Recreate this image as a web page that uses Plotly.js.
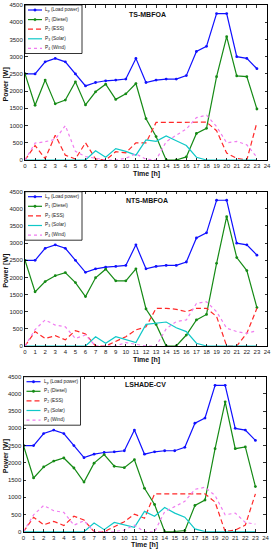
<!DOCTYPE html>
<html><head><meta charset="utf-8">
<script src="https://cdn.plot.ly/plotly-3.0.1.min.js"></script>
<style>html,body{margin:0;padding:0;background:#fff}#chart{width:272px;height:550px}</style>
</head><body><div id="chart"></div>
<script>
const hours = [0,1,2,3,4,5,6,7,8,9,10,11,12,13,14,15,16,17,18,19,20,21,22,23];
const xTicks = [0,1,2,3,4,5,6,7,8,9,10,11,12,13,14,15,16,17,18,19,20,21,22,23,24];
const yTicks = [0,500,1000,1500,2000,2500,3000,3500,4000,4500];
const seriesNames = ['L<sub>p</sub> (Load power)','P<sub>1</sub> (Diesel)','P<sub>2</sub> (ESS)','P<sub>3</sub> (Solar)','P<sub>4</sub> (Wind)'];
const panelTitles = ['TS-MBFOA','NTS-MBFOA','LSHADE-CV'];

const load = [2500,2500,2850,2950,2850,2500,2150,2250,2300,2320,2350,2950,2250,2320,2350,2350,2450,3150,3300,4250,4250,3000,2950,2650];

const diesel1 = [2500,1590,2320,1630,1740,2270,1600,1980,2200,1760,1920,2220,1200,680,0,0,90,770,920,2420,3580,2440,2420,1480];
const ess1    = [0,420,40,720,140,30,500,30,0,240,210,500,500,1090,1090,1090,1100,1100,1100,850,200,50,0,1090];
const solar1  = [0,0,0,0,0,0,0,270,80,330,250,140,580,540,700,560,420,80,0,0,0,0,0,0];
const wind1   = [0,490,530,600,1000,250,100,50,0,0,50,180,20,0,530,720,900,1230,1300,970,500,540,440,80];

const diesel2 = [2500,1580,1880,2050,2140,1850,1440,1990,2240,1900,1900,2250,1080,630,0,0,320,760,920,2410,3770,2580,2200,1120];
const ess2    = [0,420,220,300,180,450,350,0,0,130,270,470,560,1100,1100,1070,1000,1100,1100,860,0,0,370,1100];
const solar2  = [0,0,0,0,0,0,0,270,80,270,180,100,630,660,700,530,420,80,0,0,0,0,0,0];
const wind2   = [0,480,760,610,560,220,320,0,0,0,100,50,0,0,500,710,760,1240,1290,1000,520,420,370,450];

const diesel3 = [2500,1560,1880,2050,2140,1850,1440,1990,2240,1900,1860,2090,1260,790,0,0,30,760,920,2410,3770,2410,2460,1310];
const ess3    = [0,420,200,300,180,450,340,0,0,150,290,510,390,1100,1100,1100,1100,1100,1100,860,0,50,190,1100];
const solar3  = [0,0,0,0,0,0,0,250,60,270,190,130,590,450,700,540,420,80,0,0,0,0,0,0];
const wind3   = [0,490,760,610,560,190,320,0,0,0,50,190,0,0,580,720,880,1230,1290,1050,490,540,270,220];

const W = 272, H = 550;
const px = x => x / W;
const py = y => 1 - y / H;

const styles = [
  {color:'#1010ff', dash:'solid', marker:true},
  {color:'#158a15', dash:'solid', marker:true},
  {color:'#ff2828', dash:'5px,3px', marker:false},
  {color:'#10c8c8', dash:'solid', marker:false},
  {color:'#f07cf0', dash:'dot', marker:false}
];

const panels = [
  {data:[load,diesel1,ess1,solar1,wind1], left:25, right:267, top:5, bottom:160, titleY:14.5, xTitleY:174},
  {data:[load,diesel2,ess2,solar2,wind2], left:25, right:267, top:191.7, bottom:346, titleY:200, xTitleY:360},
  {data:[load,diesel3,ess3,solar3,wind3], left:23.5, right:265.5, top:376.7, bottom:531.7, titleY:384.5, xTitleY:544.5}
];

const traces = [];
const layout = {
  width: W, height: H,
  margin: {l:0, r:0, t:0, b:0},
  paper_bgcolor: '#fff', plot_bgcolor: '#fff',
  showlegend: false,
  font: {family:'Liberation Sans, Arial, sans-serif', size:6, color:'#222'},
  shapes: [], annotations: []
};

panels.forEach((p, i) => {
  const sfx = i === 0 ? '' : String(i + 1);
  p.data.forEach((ys, k) => {
    const st = styles[k];
    traces.push({
      x: hours, y: ys, type: 'scatter',
      mode: st.marker ? 'lines+markers' : 'lines',
      xaxis: 'x' + sfx, yaxis: 'y' + sfx,
      line: {color: st.color, width: 1.2, dash: st.dash},
      marker: {size: 2.8, color: st.color},
      name: seriesNames[k], hoverinfo: 'skip', cliponaxis: true
    });
  });
  const axCommon = {
    showgrid: false, zeroline: false, showline: true, linecolor: '#000', linewidth: 1,
    mirror: 'allticks', ticks: 'inside', ticklen: 2.5, tickcolor: '#000', tickwidth: 0.8,
    tickfont: {size: 6, color: '#222', family: 'Liberation Sans, Arial, sans-serif'},
    automargin: false, fixedrange: true
  };
  layout['xaxis' + sfx] = Object.assign({}, axCommon, {
    domain: [px(p.left), px(p.right)], range: [0, 24], anchor: 'y' + sfx,
    tickvals: xTicks, ticktext: xTicks.map(String)
  });
  layout['yaxis' + sfx] = Object.assign({}, axCommon, {
    domain: [py(p.bottom), py(p.top)], range: [0, 4500], anchor: 'x' + sfx,
    tickvals: yTicks, ticktext: yTicks.map(String)
  });
  const cx = (p.left + p.right) / 2;
  layout.annotations.push({
    text: '<b>' + panelTitles[i] + '</b>', xref: 'paper', yref: 'paper',
    x: px(cx + 1), y: py(p.titleY), xanchor: 'center', yanchor: 'middle',
    showarrow: false, font: {size: 7, color: '#111'}
  });
  layout.annotations.push({
    text: '<b>Time [h]</b>', xref: 'paper', yref: 'paper',
    x: px(cx), y: py(p.xTitleY), xanchor: 'center', yanchor: 'middle',
    showarrow: false, font: {size: 7, color: '#111'}
  });
  layout.annotations.push({
    text: '<b>Power [W]</b>', xref: 'paper', yref: 'paper', textangle: -90,
    x: px(6), y: py((p.top + p.bottom) / 2 + 2), xanchor: 'center', yanchor: 'middle',
    showarrow: false, font: {size: 7, color: '#111'}
  });
  // legend box
  const lx0 = p.left, lx1 = p.left + 57, ly0 = p.top, ly1 = p.top + 48.5;
  layout.shapes.push({type:'rect', xref:'paper', yref:'paper', x0:px(lx0), x1:px(lx1), y0:py(ly0), y1:py(ly1),
    line:{color:'#000', width:0.8}, fillcolor:'#fff', layer:'above'});
  seriesNames.forEach((nm, k) => {
    const st = styles[k];
    const yy = p.top + 5 + k * 9.6;
    layout.shapes.push({type:'line', xref:'paper', yref:'paper', x0:px(lx0 + 3), x1:px(lx0 + 17), y0:py(yy), y1:py(yy),
      line:{color:st.color, width:1.2, dash:st.dash}, layer:'above'});
    if (st.marker) {
      layout.shapes.push({type:'circle', xref:'paper', yref:'paper', x0:px(lx0 + 8.8), x1:px(lx0 + 11.2), y0:py(yy - 1.2), y1:py(yy + 1.2),
        line:{color:st.color, width:0.5}, fillcolor:st.color, layer:'above'});
    }
    layout.annotations.push({
      text: nm, xref:'paper', yref:'paper', x:px(lx0 + 18), y:py(yy), xanchor:'left', yanchor:'middle',
      showarrow:false, font:{size:4.8, color:'#222'}
    });
  });
});

Plotly.newPlot('chart', traces, layout, {staticPlot: true, displayModeBar: false});
</script>
</body></html>
